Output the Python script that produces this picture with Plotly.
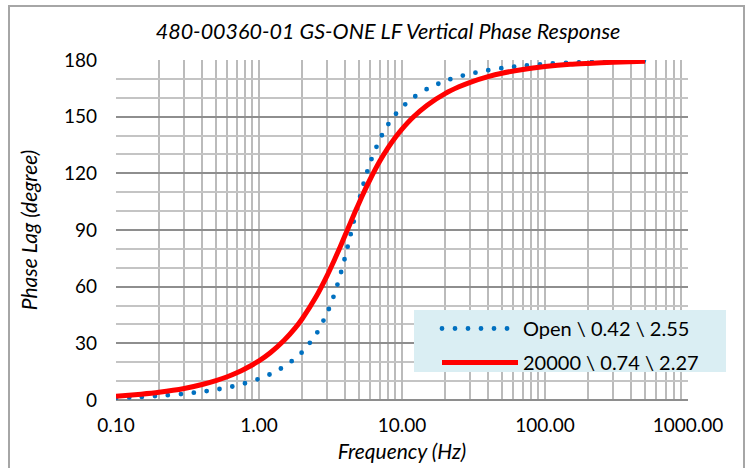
import plotly.graph_objects as go

# ---- data ----
freq_hz = [0.1, 0.15, 0.2, 0.3, 0.4, 0.5, 0.6, 0.7, 0.8, 1.0, 1.2, 1.5, 1.8, 2.0,
           2.5, 3.0, 3.25, 3.5, 3.75, 4.0, 4.25, 4.5, 4.75, 5.0, 5.5, 6, 7, 8, 9,
           10, 12, 15, 20, 25, 30, 40, 50, 70, 100, 150, 200, 300, 500]

open_phase = [1.1, 1.6, 2.2, 3.3, 4.4, 5.5, 6.6, 7.7, 8.9, 11.2, 13.7, 17.7, 22.1, 25.3,
              34.6, 46.1, 52.7, 60.0, 67.7, 75.7, 83.8, 91.5, 98.8, 105.5, 116.9, 125.8,
              138.1, 145.9, 151.2, 155.0, 160.1, 164.7, 168.9, 171.2, 172.7, 174.6, 175.7,
              176.9, 177.9, 178.6, 178.9, 179.3, 179.6]

shunt_phase = [2.0, 3.1, 4.1, 6.1, 8.2, 10.3, 12.3, 14.4, 16.5, 20.7, 25.0, 31.6, 38.3, 42.9,
               54.5, 66.0, 71.6, 77.0, 82.2, 87.2, 91.8, 96.3, 100.4, 104.2, 111.1, 117.0,
               126.5, 133.6, 139.1, 143.4, 149.8, 156.1, 162.2, 165.8, 168.2, 171.2, 173.0,
               175.0, 176.5, 177.7, 178.2, 178.8, 179.3]

series_names = ["Open \\ 0.42 \\ 2.55", "20000 \\ 0.74 \\ 2.27"]

x_tick_vals = [0.1, 1, 10, 100, 1000]
x_tick_text = ["0.10", "1.00", "10.00", "100.00", "1000.00"]
y_tick_vals = [0, 30, 60, 90, 120, 150, 180]

title_text = "480-00360-01 GS-ONE LF Vertical Phase Response"
x_title = "Frequency (Hz)"
y_title = "Phase Lag (degree)"

# ---- figure ----
FONT = "Lato"
W, H = 750, 468
L, R, T, B = 116, 62, 60, 68
pw, ph = W - L - R, H - T - B

def px_x(p):
    return (p - L) / pw

def px_y(p):
    return (H - B - p) / ph

fig = go.Figure()
fig.add_trace(go.Scatter(
    x=freq_hz, y=open_phase, mode="lines", name=series_names[0],
    legendgroup="g1",
    line=dict(color="#0070C0", width=4.8, dash="0px,13px", shape="spline", smoothing=0.6),
))
fig.add_trace(go.Scatter(
    x=freq_hz, y=shunt_phase, mode="lines", name=series_names[1],
    legendgroup="g2",
    line=dict(color="#FF0000", width=5, shape="spline", smoothing=0.6),
))

fig.update_layout(
    width=W, height=H,
    margin=dict(l=L, r=R, t=T, b=B, autoexpand=False),
    paper_bgcolor="white", plot_bgcolor="white",
    font=dict(family=FONT, size=19, color="#000000"),
    title=dict(text=title_text, xref="container", x=388 / W, xanchor="center",
               y=1 - 31 / H, yanchor="middle", automargin=False,
               font=dict(family=FONT, size=21.5, style="italic", color="#000000")),
    showlegend=True,
    legend=dict(x=px_x(437), y=px_y(309), xanchor="left", yanchor="top",
                bgcolor="rgba(0,0,0,0)", borderwidth=0, itemwidth=76,
                tracegroupgap=5,
                font=dict(family=FONT, size=20, color="#000000")),
    shapes=[
        dict(type="rect", xref="paper", yref="paper",
             x0=px_x(414), x1=px_x(726), y0=px_y(372), y1=px_y(310),
             fillcolor="#DAEEF3", line=dict(width=0), layer="above"),
        dict(type="rect", xref="paper", yref="paper",
             x0=px_x(9), x1=px_x(744), y0=px_y(480), y1=px_y(6),
             fillcolor="rgba(0,0,0,0)", line=dict(color="#A6A6A6", width=2),
             layer="below"),
    ],
)

fig.update_xaxes(
    type="log", range=[-1, 3], automargin=False,
    tickvals=x_tick_vals, ticktext=x_tick_text,
    showgrid=True, gridcolor="#BBBBBB", gridwidth=2,
    minor=dict(dtick="D1", showgrid=True, gridcolor="#BBBBBB", gridwidth=2, ticks=""),
    showline=False, zeroline=False, ticks="", ticklabelstandoff=12,
    tickfont=dict(family=FONT, size=19, color="#000000"),
    title=dict(text=x_title, standoff=9,
               font=dict(family=FONT, size=21, style="italic", color="#000000")),
)
fig.update_yaxes(
    range=[0, 180], tickvals=y_tick_vals, automargin=False,
    showgrid=True, gridcolor="#8E8E8E", gridwidth=2,
    minor=dict(dtick=10, showgrid=True, gridcolor="#C4C4C4", gridwidth=2, ticks=""),
    showline=False, zeroline=True, zerolinecolor="#8E8E8E", zerolinewidth=2,
    ticks="", ticklabelstandoff=18,
    tickfont=dict(family=FONT, size=19, color="#000000"),
    title=dict(text=y_title, standoff=20,
               font=dict(family=FONT, size=21, style="italic", color="#000000")),
)

post = """
document.documentElement.style.margin = '0';
document.body.style.margin = '0';
document.body.style.overflow = 'hidden';
var gd = document.getElementById('{plot_id}');
function roundDots(){
  gd.querySelectorAll('path.js-line').forEach(function(p){
    var d = p.style.strokeDasharray;
    if (d && d !== 'none' && d !== '') { p.style.strokeLinecap = 'round'; }
  });
}
roundDots();
if (gd.on) { gd.on('plotly_afterplot', roundDots); }
setTimeout(roundDots, 50);
"""

fig.write_html("out.html", post_script=post, config={"displayModeBar": False})
